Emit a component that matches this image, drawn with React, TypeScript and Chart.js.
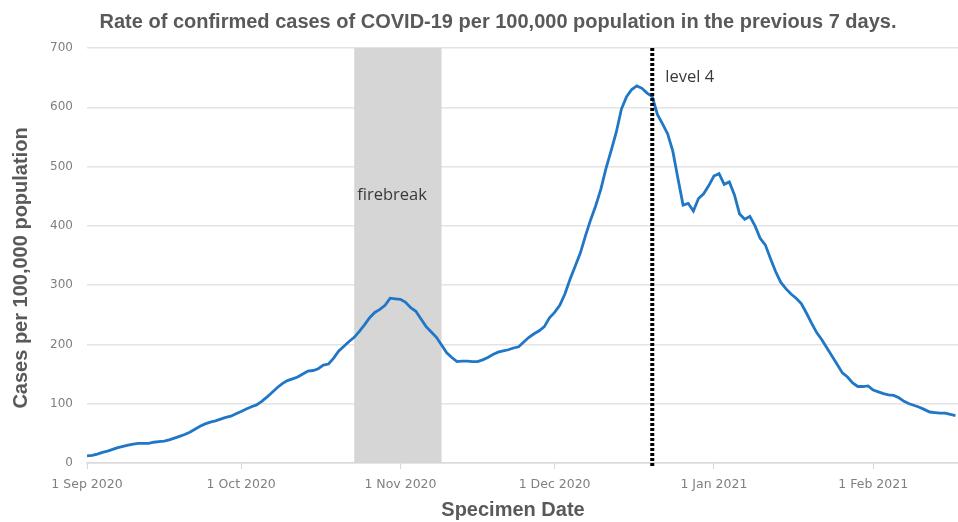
import { useEffect, useRef } from 'react';
import { Chart, registerables } from 'chart.js';

Chart.register(...registerables);

const CHART_TITLE = 'Rate of confirmed cases of COVID-19 per 100,000 population in the previous 7 days.';
const X_TITLE = 'Specimen Date';
const Y_TITLE = 'Cases per 100,000 population';

// Daily 7-day rate, one value per day starting 1 Sep 2020 (day 0) to 17 Feb 2021 (day 169)
const RATE_VALUES = [
  12, 13, 15, 18, 20, 23, 26, 28, 30, 32,
  33, 33, 33, 35, 36, 37, 39, 42, 45, 48,
  52, 57, 62, 66, 69, 71, 74, 77, 79, 83,
  87, 91, 95, 98, 104, 111, 119, 127, 134, 139,
  142, 145, 150, 155, 156, 159, 165, 167, 177, 189,
  197, 205, 212, 222, 233, 245, 254, 259, 266, 278,
  277, 276, 271, 262, 256, 243, 230, 221, 212, 199,
  186, 178, 171, 172, 172, 171, 171, 174, 178, 183,
  187, 189, 191, 194, 196, 204, 212, 218, 223, 230,
  245, 254, 266, 285, 310, 332, 354, 383, 410, 434,
  462, 497, 527, 558, 597, 618, 630, 636, 632, 624,
  618, 588, 572, 555, 526, 480, 435, 438, 425, 446,
  454, 468, 484, 488, 470, 474, 452, 420, 411, 416,
  400, 379, 368, 345, 323, 305, 294, 285, 278, 269,
  253, 236, 220, 208, 194, 180, 166, 152, 145, 135,
  129, 129, 130, 123, 120, 117, 115, 114, 110, 104,
  100, 97, 94, 90, 86, 85, 84, 84, 82, 80,
];

// Day indices (days since 1 Sep 2020) of the month ticks, and their labels
const MONTH_TICK_DAYS = [0, 30, 61, 91, 122, 153];
const MONTH_TICK_LABELS = ['1 Sep 2020', '1 Oct 2020', '1 Nov 2020', '1 Dec 2020', '1 Jan 2021', '1 Feb 2021'];

const Y_MIN = 0;
const Y_MAX = 700;
const Y_STEP = 100;
const X_MAX_DAY = 169.5;

// Firebreak period: 23 Oct 2020 (day 52) to 9 Nov 2020 (day 69)
const FIREBREAK_LABEL = 'firebreak';
const FIREBREAK_START_DAY = 52;
const FIREBREAK_END_DAY = 69;
const FIREBREAK_LABEL_VALUE = 452;

// Level 4 from 20 Dec 2020 (day 110)
const LEVEL4_LABEL = 'level 4';
const LEVEL4_DAY = 110;
const LEVEL4_LABEL_VALUE = 651;

const overlayPlugin = {
  id: 'overlay',
  beforeDatasetsDraw(chart: any) {
    const { ctx, chartArea, scales } = chart;
    const x = scales.x;
    const y = scales.y;
    const x0 = x.getPixelForValue(FIREBREAK_START_DAY);
    const x1 = x.getPixelForValue(FIREBREAK_END_DAY);
    ctx.save();
    ctx.fillStyle = '#d6d6d6';
    ctx.fillRect(x0, chartArea.top, x1 - x0, chartArea.bottom - chartArea.top);
    ctx.fillStyle = '#3a3a3a';
    ctx.font = '16.5px "Open Sans"';
    ctx.textAlign = 'left';
    ctx.textBaseline = 'middle';
    ctx.fillText(FIREBREAK_LABEL, x0 + 3, y.getPixelForValue(FIREBREAK_LABEL_VALUE));
    ctx.restore();
  },
  afterDatasetsDraw(chart: any) {
    const { ctx, chartArea, scales } = chart;
    const x = scales.x;
    const y = scales.y;
    const lx = x.getPixelForValue(LEVEL4_DAY);
    ctx.save();
    ctx.strokeStyle = '#000000';
    ctx.lineWidth = 4;
    ctx.setLineDash([3, 2]);
    ctx.beginPath();
    ctx.moveTo(lx, chartArea.top);
    ctx.lineTo(lx, chartArea.bottom + 3);
    ctx.stroke();
    ctx.setLineDash([]);
    ctx.fillStyle = '#3a3a3a';
    ctx.font = '16.5px "Open Sans"';
    ctx.textAlign = 'left';
    ctx.textBaseline = 'middle';
    ctx.fillText(LEVEL4_LABEL, lx + 13, y.getPixelForValue(LEVEL4_LABEL_VALUE));
    // chart title
    ctx.fillStyle = '#595959';
    ctx.font = 'bold 20px "Liberation Sans"';
    ctx.textAlign = 'center';
    ctx.fillText(CHART_TITLE, 498, 22);
    // axis titles
    ctx.font = 'bold 20px "Liberation Sans"';
    ctx.fillText(X_TITLE, 513, 510);
    ctx.translate(21, 268);
    ctx.rotate(-Math.PI / 2);
    ctx.fillText(Y_TITLE, 0, 0);
    ctx.restore();
  },
};

export default function App() {
  const canvasRef = useRef<HTMLCanvasElement | null>(null);

  useEffect(() => {
    document.body.style.margin = '0';
    const canvas = canvasRef.current;
    if (!canvas) return;
    const points = RATE_VALUES.map((v, i) => ({ x: i, y: v }));
    const chart = new Chart(canvas, {
      type: 'line',
      data: {
        datasets: [
          {
            data: points,
            borderColor: '#1f77c6',
            borderWidth: 2.8,
            pointRadius: 0,
            tension: 0,
            fill: false,
          },
        ],
      },
      options: {
        animation: false,
        responsive: false,
        maintainAspectRatio: false,
        layout: { padding: { top: 48, right: 0, left: 0, bottom: 0 } },
        plugins: {
          legend: { display: false },
          tooltip: { enabled: false },
          title: { display: false },
        },
        scales: {
          x: {
            type: 'linear',
            min: 0,
            max: X_MAX_DAY,
            afterBuildTicks: (scale: any) => {
              scale.ticks = MONTH_TICK_DAYS.map((d) => ({ value: d }));
            },
            afterFit: (scale: any) => {
              scale.height = 59;
            },
            ticks: {
              autoSkip: false,
              maxRotation: 0,
              padding: 8,
              color: '#7f7f7f',
              font: { family: '"DejaVu Sans"', size: 12.5 },
              callback: (value: any) => {
                const idx = MONTH_TICK_DAYS.indexOf(Number(value));
                return idx >= 0 ? MONTH_TICK_LABELS[idx] : '';
              },
            },
            grid: {
              drawOnChartArea: false,
              drawTicks: true,
              tickLength: 6,
              color: '#d9d9d9',
            },
            border: { display: true, color: '#d9d9d9', width: 1.5 },
            title: { display: false },
          },
          y: {
            min: Y_MIN,
            max: Y_MAX,
            afterFit: (scale: any) => {
              scale.width = 87;
            },
            ticks: {
              stepSize: Y_STEP,
              padding: 14,
              color: '#7f7f7f',
              font: { family: '"DejaVu Sans"', size: 12 },
            },
            grid: {
              color: '#e4e4e4',
              lineWidth: 1.5,
              drawTicks: false,
            },
            border: { display: false },
            title: { display: false },
          },
        },
      },
      plugins: [overlayPlugin],
    });
    return () => chart.destroy();
  }, []);

  return (
    <div style={{ width: 958, height: 522 }}>
      <canvas ref={canvasRef} width={958} height={522} style={{ display: 'block' }} />
    </div>
  );
}
